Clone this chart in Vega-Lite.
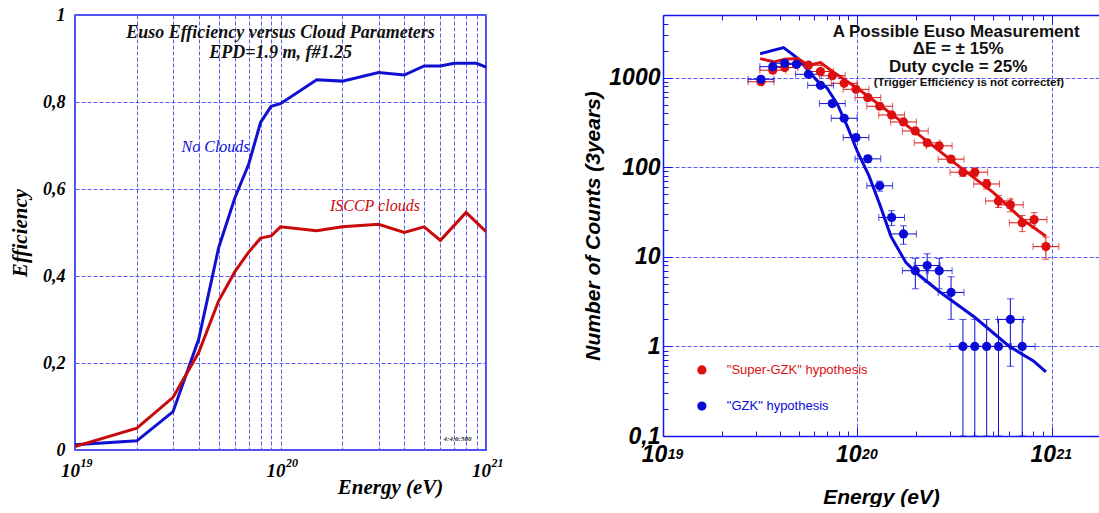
{
  "$schema": "https://vega.github.io/schema/vega-lite/v6.json",
  "background": "white",
  "padding": {"left": 8, "top": 5, "right": 0, "bottom": 0},
  "bounds": "flush",
  "spacing": 177,
  "resolve": {"scale": {"color": "independent"}},
  "config": {"view": {"stroke": null}, "axis": {"labelColor": "black", "titleColor": "black"}},
  "datasets": {
    "eff": [
      {"E": 1e19, "eff": 0.012, "series": "No Clouds"},
      {"E": 2e19, "eff": 0.021, "series": "No Clouds"},
      {"E": 3e19, "eff": 0.088, "series": "No Clouds"},
      {"E": 4e19, "eff": 0.255, "series": "No Clouds"},
      {"E": 5e19, "eff": 0.465, "series": "No Clouds"},
      {"E": 6e19, "eff": 0.58, "series": "No Clouds"},
      {"E": 7e19, "eff": 0.657, "series": "No Clouds"},
      {"E": 8e19, "eff": 0.753, "series": "No Clouds"},
      {"E": 9e19, "eff": 0.79, "series": "No Clouds"},
      {"E": 1e20, "eff": 0.796, "series": "No Clouds"},
      {"E": 1.5e20, "eff": 0.851, "series": "No Clouds"},
      {"E": 2e20, "eff": 0.848, "series": "No Clouds"},
      {"E": 3e20, "eff": 0.868, "series": "No Clouds"},
      {"E": 4e20, "eff": 0.862, "series": "No Clouds"},
      {"E": 5e20, "eff": 0.883, "series": "No Clouds"},
      {"E": 6e20, "eff": 0.883, "series": "No Clouds"},
      {"E": 7e20, "eff": 0.889, "series": "No Clouds"},
      {"E": 8e20, "eff": 0.889, "series": "No Clouds"},
      {"E": 9e20, "eff": 0.889, "series": "No Clouds"},
      {"E": 1e21, "eff": 0.88, "series": "No Clouds"},
      {"E": 1e19, "eff": 0.008, "series": "ISCCP clouds"},
      {"E": 2e19, "eff": 0.05, "series": "ISCCP clouds"},
      {"E": 3e19, "eff": 0.121, "series": "ISCCP clouds"},
      {"E": 4e19, "eff": 0.224, "series": "ISCCP clouds"},
      {"E": 5e19, "eff": 0.343, "series": "ISCCP clouds"},
      {"E": 6e19, "eff": 0.41, "series": "ISCCP clouds"},
      {"E": 7e19, "eff": 0.455, "series": "ISCCP clouds"},
      {"E": 8e19, "eff": 0.487, "series": "ISCCP clouds"},
      {"E": 9e19, "eff": 0.492, "series": "ISCCP clouds"},
      {"E": 1e20, "eff": 0.513, "series": "ISCCP clouds"},
      {"E": 1.5e20, "eff": 0.504, "series": "ISCCP clouds"},
      {"E": 2e20, "eff": 0.513, "series": "ISCCP clouds"},
      {"E": 3e20, "eff": 0.519, "series": "ISCCP clouds"},
      {"E": 4e20, "eff": 0.5, "series": "ISCCP clouds"},
      {"E": 5e20, "eff": 0.513, "series": "ISCCP clouds"},
      {"E": 6e20, "eff": 0.482, "series": "ISCCP clouds"},
      {"E": 8e20, "eff": 0.546, "series": "ISCCP clouds"},
      {"E": 1e21, "eff": 0.502, "series": "ISCCP clouds"}
    ],
    "effLabels": [
      {"E": 4.83e19, "eff": 0.697, "label": "No Clouds", "series": "No Clouds"},
      {"E": 2.88e20, "eff": 0.56, "label": "ISCCP clouds", "series": "ISCCP clouds"}
    ],
    "effTitle": [
      {"E": 1e20, "eff": 0.959, "label": "Euso Efficiency versus Cloud Parameters"},
      {"E": 1e20, "eff": 0.913, "label": "EPD=1.9 m, f#1.25"}
    ],
    "effTag": [
      {"E": 7.26e20, "eff": 0.025, "label": "4:4:6:500"}
    ],
    "counts": [
      {"E": 3.19e19, "Elo": 2.74e19, "Ehi": 3.72e19, "n": 900, "nlo": 870, "nhi": 930, "hyp": "Super-GZK"},
      {"E": 3.67e19, "Elo": 3.15e19, "Ehi": 4.28e19, "n": 1210, "nlo": 1175, "nhi": 1245, "hyp": "Super-GZK"},
      {"E": 4.23e19, "Elo": 3.63e19, "Ehi": 4.93e19, "n": 1295, "nlo": 1259, "nhi": 1331, "hyp": "Super-GZK"},
      {"E": 4.86e19, "Elo": 4.17e19, "Ehi": 5.66e19, "n": 1410, "nlo": 1372, "nhi": 1448, "hyp": "Super-GZK"},
      {"E": 5.60e19, "Elo": 4.81e19, "Ehi": 6.52e19, "n": 1375, "nlo": 1338, "nhi": 1412, "hyp": "Super-GZK"},
      {"E": 6.46e19, "Elo": 5.55e19, "Ehi": 7.53e19, "n": 1170, "nlo": 1136, "nhi": 1204, "hyp": "Super-GZK"},
      {"E": 7.43e19, "Elo": 6.38e19, "Ehi": 8.66e19, "n": 1050, "nlo": 1018, "nhi": 1082, "hyp": "Super-GZK"},
      {"E": 8.55e19, "Elo": 7.34e19, "Ehi": 9.96e19, "n": 865, "nlo": 836, "nhi": 894, "hyp": "Super-GZK"},
      {"E": 9.84e19, "Elo": 8.45e19, "Ehi": 1.146e20, "n": 740, "nlo": 713, "nhi": 767, "hyp": "Super-GZK"},
      {"E": 1.132e20, "Elo": 9.72e19, "Ehi": 1.319e20, "n": 598, "nlo": 574, "nhi": 622, "hyp": "Super-GZK"},
      {"E": 1.303e20, "Elo": 1.118e20, "Ehi": 1.518e20, "n": 479, "nlo": 457, "nhi": 501, "hyp": "Super-GZK"},
      {"E": 1.50e20, "Elo": 1.288e20, "Ehi": 1.748e20, "n": 383, "nlo": 363, "nhi": 403, "hyp": "Super-GZK"},
      {"E": 1.726e20, "Elo": 1.482e20, "Ehi": 2.011e20, "n": 320, "nlo": 302, "nhi": 338, "hyp": "Super-GZK"},
      {"E": 1.986e20, "Elo": 1.705e20, "Ehi": 2.314e20, "n": 254, "nlo": 238, "nhi": 270, "hyp": "Super-GZK"},
      {"E": 2.286e20, "Elo": 1.962e20, "Ehi": 2.663e20, "n": 187, "nlo": 173, "nhi": 201, "hyp": "Super-GZK"},
      {"E": 2.636e20, "Elo": 2.263e20, "Ehi": 3.071e20, "n": 173, "nlo": 160, "nhi": 186, "hyp": "Super-GZK"},
      {"E": 3.034e20, "Elo": 2.604e20, "Ehi": 3.535e20, "n": 123, "nlo": 112, "nhi": 134, "hyp": "Super-GZK"},
      {"E": 3.491e20, "Elo": 2.997e20, "Ehi": 4.067e20, "n": 88, "nlo": 79, "nhi": 97, "hyp": "Super-GZK"},
      {"E": 4.018e20, "Elo": 3.449e20, "Ehi": 4.681e20, "n": 88, "nlo": 79, "nhi": 97, "hyp": "Super-GZK"},
      {"E": 4.624e20, "Elo": 3.969e20, "Ehi": 5.387e20, "n": 65, "nlo": 57, "nhi": 73, "hyp": "Super-GZK"},
      {"E": 5.321e20, "Elo": 4.567e20, "Ehi": 6.199e20, "n": 42, "nlo": 35.5, "nhi": 48.5, "hyp": "Super-GZK"},
      {"E": 6.124e20, "Elo": 5.257e20, "Ehi": 7.135e20, "n": 38, "nlo": 31.8, "nhi": 44.2, "hyp": "Super-GZK"},
      {"E": 7.047e20, "Elo": 6.049e20, "Ehi": 8.21e20, "n": 24, "nlo": 19.1, "nhi": 28.9, "hyp": "Super-GZK"},
      {"E": 8.11e20, "Elo": 6.961e20, "Ehi": 9.448e20, "n": 26, "nlo": 20.9, "nhi": 31.1, "hyp": "Super-GZK"},
      {"E": 9.33e20, "Elo": 8.009e20, "Ehi": 1.0869e21, "n": 13, "nlo": 9.4, "nhi": 16.6, "hyp": "Super-GZK"},
      {"E": 3.19e19, "Elo": 2.74e19, "Ehi": 3.72e19, "n": 958, "nlo": 927, "nhi": 989, "hyp": "GZK"},
      {"E": 3.67e19, "Elo": 3.15e19, "Ehi": 4.28e19, "n": 1326, "nlo": 1290, "nhi": 1362, "hyp": "GZK"},
      {"E": 4.23e19, "Elo": 3.63e19, "Ehi": 4.93e19, "n": 1446, "nlo": 1408, "nhi": 1484, "hyp": "GZK"},
      {"E": 4.86e19, "Elo": 4.17e19, "Ehi": 5.66e19, "n": 1408, "nlo": 1370, "nhi": 1446, "hyp": "GZK"},
      {"E": 5.60e19, "Elo": 4.81e19, "Ehi": 6.52e19, "n": 1089, "nlo": 1056, "nhi": 1122, "hyp": "GZK"},
      {"E": 6.46e19, "Elo": 5.55e19, "Ehi": 7.53e19, "n": 821, "nlo": 792, "nhi": 850, "hyp": "GZK"},
      {"E": 7.43e19, "Elo": 6.38e19, "Ehi": 8.66e19, "n": 513, "nlo": 490, "nhi": 536, "hyp": "GZK"},
      {"E": 8.55e19, "Elo": 7.34e19, "Ehi": 9.96e19, "n": 352, "nlo": 333, "nhi": 371, "hyp": "GZK"},
      {"E": 9.84e19, "Elo": 8.45e19, "Ehi": 1.146e20, "n": 214, "nlo": 199, "nhi": 229, "hyp": "GZK"},
      {"E": 1.132e20, "Elo": 9.72e19, "Ehi": 1.319e20, "n": 124, "nlo": 113, "nhi": 135, "hyp": "GZK"},
      {"E": 1.303e20, "Elo": 1.118e20, "Ehi": 1.518e20, "n": 62, "nlo": 54, "nhi": 70, "hyp": "GZK"},
      {"E": 1.50e20, "Elo": 1.288e20, "Ehi": 1.748e20, "n": 27.5, "nlo": 22.3, "nhi": 32.7, "hyp": "GZK"},
      {"E": 1.726e20, "Elo": 1.482e20, "Ehi": 2.011e20, "n": 18, "nlo": 13.8, "nhi": 22.2, "hyp": "GZK"},
      {"E": 1.986e20, "Elo": 1.705e20, "Ehi": 2.314e20, "n": 7, "nlo": 4.4, "nhi": 9.6, "hyp": "GZK"},
      {"E": 2.286e20, "Elo": 1.962e20, "Ehi": 2.663e20, "n": 8, "nlo": 5.2, "nhi": 10.8, "hyp": "GZK"},
      {"E": 2.636e20, "Elo": 2.263e20, "Ehi": 3.071e20, "n": 7, "nlo": 4.4, "nhi": 9.6, "hyp": "GZK"},
      {"E": 3.034e20, "Elo": 2.604e20, "Ehi": 3.535e20, "n": 4, "nlo": 2, "nhi": 6, "hyp": "GZK"},
      {"E": 3.491e20, "Elo": 2.997e20, "Ehi": 4.067e20, "n": 1, "nlo": 0.1, "nhi": 2, "hyp": "GZK"},
      {"E": 4.018e20, "Elo": 3.449e20, "Ehi": 4.681e20, "n": 1, "nlo": 0.1, "nhi": 2, "hyp": "GZK"},
      {"E": 4.624e20, "Elo": 3.969e20, "Ehi": 5.387e20, "n": 1, "nlo": 0.1, "nhi": 2, "hyp": "GZK"},
      {"E": 5.321e20, "Elo": 4.567e20, "Ehi": 6.199e20, "n": 1, "nlo": 0.1, "nhi": 2, "hyp": "GZK"},
      {"E": 6.124e20, "Elo": 5.257e20, "Ehi": 7.135e20, "n": 2, "nlo": 0.6, "nhi": 3.4, "hyp": "GZK"},
      {"E": 7.047e20, "Elo": 6.049e20, "Ehi": 8.21e20, "n": 1, "nlo": 0.1, "nhi": 2, "hyp": "GZK"}
    ],
    "model": [
      {"E": 3.16e19, "n": 1850, "hyp": "GZK"},
      {"E": 4.17e19, "n": 2160, "hyp": "GZK"},
      {"E": 5.01e19, "n": 1600, "hyp": "GZK"},
      {"E": 5.68e19, "n": 1140, "hyp": "GZK"},
      {"E": 6.41e19, "n": 860, "hyp": "GZK"},
      {"E": 6.97e19, "n": 770, "hyp": "GZK"},
      {"E": 7.89e19, "n": 505, "hyp": "GZK"},
      {"E": 8.91e19, "n": 280, "hyp": "GZK"},
      {"E": 1.0e20, "n": 150, "hyp": "GZK"},
      {"E": 1.148e20, "n": 80, "hyp": "GZK"},
      {"E": 1.318e20, "n": 36, "hyp": "GZK"},
      {"E": 1.486e20, "n": 17, "hyp": "GZK"},
      {"E": 1.778e20, "n": 8.6, "hyp": "GZK"},
      {"E": 2.1e20, "n": 6.1, "hyp": "GZK"},
      {"E": 2.68e20, "n": 4.0, "hyp": "GZK"},
      {"E": 4.03e20, "n": 2.1, "hyp": "GZK"},
      {"E": 6.05e20, "n": 1.0, "hyp": "GZK"},
      {"E": 8.05e20, "n": 0.69, "hyp": "GZK"},
      {"E": 9.33e20, "n": 0.52, "hyp": "GZK"},
      {"E": 3.16e19, "n": 1630, "hyp": "Super-GZK"},
      {"E": 3.72e19, "n": 1500, "hyp": "Super-GZK"},
      {"E": 4.24e19, "n": 1600, "hyp": "Super-GZK"},
      {"E": 4.93e19, "n": 1630, "hyp": "Super-GZK"},
      {"E": 5.62e19, "n": 1375, "hyp": "Super-GZK"},
      {"E": 6.46e19, "n": 1470, "hyp": "Super-GZK"},
      {"E": 7.57e19, "n": 1140, "hyp": "Super-GZK"},
      {"E": 1.0e20, "n": 760, "hyp": "Super-GZK"},
      {"E": 2.0e20, "n": 245, "hyp": "Super-GZK"},
      {"E": 3.16e20, "n": 112, "hyp": "Super-GZK"},
      {"E": 5.01e20, "n": 52, "hyp": "Super-GZK"},
      {"E": 7.08e20, "n": 26, "hyp": "Super-GZK"},
      {"E": 9.33e20, "n": 17, "hyp": "Super-GZK"}
    ],
    "legend": [
      {"E": 1.585e19, "Et": 2.13e19, "n": 0.546, "label": "\"Super-GZK\" hypothesis", "hyp": "Super-GZK"},
      {"E": 1.585e19, "Et": 2.13e19, "n": 0.216, "label": "\"GZK\" hypothesis", "hyp": "GZK"}
    ],
    "rtitle": [
      {"E": 3.22e20, "n": 3230, "label": "A Possible Euso Measurement"},
      {"E": 3.3e20, "n": 2090, "label": "ΔE = ± 15%"},
      {"E": 3.3e20, "n": 1315, "label": "Duty cycle = 25%"}
    ],
    "rnote": [
      {"E": 3.75e20, "n": 871, "label": "(Trigger Efficiency is not correctef)"}
    ]
  },
  "hconcat": [
    {
      "width": 411,
      "height": 435,
      "view": {"stroke": "#1414f0", "strokeWidth": 1.5},
      "resolve": {"axis": {"x": "independent"}},
      "layer": [
        {
          "data": {"name": "eff"},
          "mark": {"type": "line", "strokeWidth": 3, "clip": true},
          "encoding": {
            "x": {
              "field": "E", "type": "quantitative",
              "scale": {"type": "log", "domain": [1e19, 1e21], "nice": false},
              "axis": {
                "values": [1e19, 2e19, 3e19, 4e19, 5e19, 6e19, 7e19, 8e19, 9e19, 1e20, 2e20, 3e20, 4e20, 5e20, 6e20, 7e20, 8e20, 9e20, 1e21],
                "labelExpr": "datum.value == 1e19 || datum.value == 1e20 || datum.value == 1e21 ? '10' : ''",
                "labelOverlap": false, "labelFlush": false, "labelOffset": -5,
                "labelFont": "Liberation Serif", "labelFontStyle": "italic", "labelFontWeight": "bold", "labelFontSize": 19, "labelPadding": 11,
                "ticks": false, "domain": false,
                "grid": true, "gridColor": "#5a5af5", "gridDash": [4, 2], "gridWidth": 1,
                "title": "Energy (eV)", "titleFont": "Liberation Serif", "titleFontStyle": "italic", "titleFontWeight": "bold", "titleFontSize": 21,
                "titleX": 315, "titlePadding": -4
              }
            },
            "y": {
              "field": "eff", "type": "quantitative",
              "scale": {"domain": [0, 1], "nice": false},
              "axis": {
                "values": [0, 0.2, 0.4, 0.6, 0.8, 1],
                "labelExpr": "replace(format(datum.value, '.1~f'), '.', ',')",
                "labelFont": "Liberation Serif", "labelFontStyle": "italic", "labelFontWeight": "bold", "labelFontSize": 18, "labelPadding": 10,
                "ticks": false, "domain": false,
                "grid": true, "gridColor": "#5a5af5", "gridDash": [4, 2], "gridWidth": 1,
                "title": "Efficiency", "titleFont": "Liberation Serif", "titleFontStyle": "italic", "titleFontWeight": "bold", "titleFontSize": 21,
                "titlePadding": 12
              }
            },
            "color": {"field": "series", "type": "nominal", "scale": {"domain": ["No Clouds", "ISCCP clouds"], "range": ["#1010d2", "#c80a0a"]}, "legend": null}
          }
        },
        {
          "data": {"name": "effLabels"},
          "mark": {"type": "text", "font": "Liberation Serif", "fontStyle": "italic", "fontSize": 16},
          "encoding": {
            "x": {"field": "E", "type": "quantitative", "axis": null},
            "y": {"field": "eff", "type": "quantitative"},
            "text": {"field": "label"},
            "color": {"field": "series", "type": "nominal", "legend": null}
          }
        },
        {
          "data": {"name": "effTitle"},
          "mark": {"type": "text", "font": "Liberation Serif", "fontStyle": "italic", "fontWeight": "bold", "fontSize": 18, "color": "#111111"},
          "encoding": {
            "x": {"field": "E", "type": "quantitative", "axis": null},
            "y": {"field": "eff", "type": "quantitative"},
            "text": {"field": "label"}
          }
        },
        {
          "data": {"name": "effTag"},
          "mark": {"type": "text", "font": "Liberation Serif", "fontStyle": "italic", "fontWeight": "bold", "fontSize": 7, "color": "#222222"},
          "encoding": {
            "x": {
              "field": "E", "type": "quantitative",
              "axis": {
                "orient": "bottom",
                "values": [1e19, 1e20, 1e21],
                "labelExpr": "datum.value == 1e19 ? '19' : datum.value == 1e20 ? '20' : '21'",
                "labelOverlap": false, "labelFlush": false, "labelOffset": 11,
                "labelFont": "Liberation Serif", "labelFontStyle": "italic", "labelFontWeight": "bold", "labelFontSize": 12, "labelPadding": 7,
                "ticks": false, "domain": false, "grid": false, "title": null
              }
            },
            "y": {"field": "eff", "type": "quantitative"},
            "text": {"field": "label"}
          }
        }
      ]
    },
    {
      "width": 436,
      "height": 421,
      "resolve": {"axis": {"x": "independent", "y": "independent"}},
      "layer": [
        {
          "data": {"name": "model"},
          "mark": {"type": "line", "strokeWidth": 3, "clip": true},
          "encoding": {
            "x": {
              "field": "E", "type": "quantitative",
              "scale": {"type": "log", "domain": [1e19, 1.75e21], "nice": false},
              "axis": {
                "values": [1e19, 2e19, 3e19, 4e19, 5e19, 6e19, 7e19, 8e19, 9e19, 1e20, 2e20, 3e20, 4e20, 5e20, 6e20, 7e20, 8e20, 9e20, 1e21],
                "labelExpr": "datum.value == 1e19 || datum.value == 1e20 || datum.value == 1e21 ? '10' : ''",
                "labelOverlap": false, "labelFlush": false, "labelOffset": -9,
                "labelFont": "Liberation Sans", "labelFontStyle": "italic", "labelFontWeight": "bold", "labelFontSize": 23, "labelPadding": 16,
                "ticks": true, "tickColor": "#1414f0", "tickWidth": 1,
                "tickSize": {"condition": {"test": "datum.value == 1e19 || datum.value == 1e20 || datum.value == 1e21", "value": -9}, "value": -5},
                "domain": true, "domainColor": "#1414f0", "domainWidth": 1.5,
                "grid": true, "gridColor": "#5a5af5", "gridDash": [4, 2], "gridWidth": 1,
                "gridOpacity": {"condition": {"test": "datum.value == 1e19 || datum.value == 1e20 || datum.value == 1e21", "value": 1}, "value": 0},
                "title": "Energy (eV)", "titleFont": "Liberation Sans", "titleFontStyle": "italic", "titleFontWeight": "bold", "titleFontSize": 21,
                "titlePadding": 16
              }
            },
            "y": {
              "field": "n", "type": "quantitative",
              "scale": {"type": "log", "domain": [0.1, 5000], "nice": false},
              "axis": {
                "values": [0.1, 0.2, 0.3, 0.4, 0.5, 0.6, 0.7, 0.8, 0.9, 1, 2, 3, 4, 5, 6, 7, 8, 9, 10, 20, 30, 40, 50, 60, 70, 80, 90, 100, 200, 300, 400, 500, 600, 700, 800, 900, 1000, 2000, 3000, 4000],
                "labelExpr": "datum.value == 0.1 ? '0,1' : datum.value == 1 ? '1' : datum.value == 10 ? '10' : datum.value == 100 ? '100' : datum.value == 1000 ? '1000' : ''",
                "labelOverlap": false, "labelFlush": false,
                "labelFont": "Liberation Sans", "labelFontStyle": "italic", "labelFontWeight": "bold", "labelFontSize": 23, "labelPadding": 12,
                "ticks": true, "tickColor": "#1414f0", "tickWidth": 1,
                "tickSize": {"condition": {"test": "datum.value == 0.1 || datum.value == 1 || datum.value == 10 || datum.value == 100 || datum.value == 1000", "value": -9}, "value": -5},
                "domain": true, "domainColor": "#1414f0", "domainWidth": 1.5,
                "grid": true, "gridColor": "#5a5af5", "gridDash": [4, 2], "gridWidth": 1,
                "gridOpacity": {"condition": {"test": "datum.value == 0.1 || datum.value == 1 || datum.value == 10 || datum.value == 100 || datum.value == 1000", "value": 1}, "value": 0},
                "title": "Number of Counts (3years)", "titleFont": "Liberation Sans", "titleFontStyle": "italic", "titleFontWeight": "bold", "titleFontSize": 21,
                "titlePadding": 5
              }
            },
            "color": {"field": "hyp", "type": "nominal", "scale": {"domain": ["Super-GZK", "GZK"], "range": ["#dc1010", "#0a0ad8"]}, "legend": null}
          }
        },
        {
          "data": {"name": "counts"},
          "mark": {"type": "rule", "strokeWidth": 1, "clip": true},
          "encoding": {
            "x": {
              "field": "Elo", "type": "quantitative",
              "axis": {
                "orient": "top",
                "values": [1e19, 2e19, 3e19, 4e19, 5e19, 6e19, 7e19, 8e19, 9e19, 1e20, 2e20, 3e20, 4e20, 5e20, 6e20, 7e20, 8e20, 9e20, 1e21],
                "labels": false, "grid": false, "title": null,
                "ticks": true, "tickColor": "#1414f0", "tickWidth": 1,
                "tickSize": {"condition": {"test": "datum.value == 1e19 || datum.value == 1e20 || datum.value == 1e21", "value": -9}, "value": -5},
                "domain": true, "domainColor": "#1414f0", "domainWidth": 1.5
              }
            },
            "x2": {"field": "Ehi"},
            "y": {"field": "n", "type": "quantitative", "axis": null},
            "color": {"field": "hyp", "type": "nominal", "legend": null}
          }
        },
        {
          "data": {"name": "counts"},
          "mark": {"type": "rule", "strokeWidth": 1, "clip": true},
          "encoding": {
            "x": {
              "field": "E", "type": "quantitative",
              "axis": {
                "orient": "bottom",
                "values": [1e19, 1e20, 1e21],
                "labelExpr": "datum.value == 1e19 ? '19' : datum.value == 1e20 ? '20' : '21'",
                "labelOverlap": false, "labelFlush": false, "labelOffset": 12,
                "labelFont": "Liberation Sans", "labelFontStyle": "italic", "labelFontWeight": "bold", "labelFontSize": 14, "labelPadding": 11,
                "ticks": false, "domain": false, "grid": false, "title": null
              }
            },
            "y": {"field": "nlo", "type": "quantitative", "axis": null},
            "y2": {"field": "nhi"},
            "color": {"field": "hyp", "type": "nominal", "legend": null}
          }
        },
        {
          "data": {"name": "counts"},
          "mark": {"type": "tick", "orient": "vertical", "size": 7, "thickness": 1, "clip": true},
          "encoding": {
            "x": {"field": "Elo", "type": "quantitative", "axis": null},
            "y": {"field": "n", "type": "quantitative", "axis": null},
            "color": {"field": "hyp", "type": "nominal", "legend": null}
          }
        },
        {
          "data": {"name": "counts"},
          "mark": {"type": "tick", "orient": "vertical", "size": 7, "thickness": 1, "clip": true},
          "encoding": {
            "x": {"field": "Ehi", "type": "quantitative", "axis": null},
            "y": {"field": "n", "type": "quantitative", "axis": null},
            "color": {"field": "hyp", "type": "nominal", "legend": null}
          }
        },
        {
          "data": {"name": "counts"},
          "mark": {"type": "tick", "orient": "horizontal", "size": 7, "thickness": 1, "clip": true},
          "encoding": {
            "x": {"field": "E", "type": "quantitative", "axis": null},
            "y": {"field": "nlo", "type": "quantitative", "axis": null},
            "color": {"field": "hyp", "type": "nominal", "legend": null}
          }
        },
        {
          "data": {"name": "counts"},
          "mark": {"type": "tick", "orient": "horizontal", "size": 7, "thickness": 1, "clip": true},
          "encoding": {
            "x": {"field": "E", "type": "quantitative", "axis": null},
            "y": {"field": "nhi", "type": "quantitative", "axis": null},
            "color": {"field": "hyp", "type": "nominal", "legend": null}
          }
        },
        {
          "data": {"name": "counts"},
          "mark": {"type": "circle", "size": 85, "opacity": 1, "clip": true},
          "encoding": {
            "x": {"field": "E", "type": "quantitative", "axis": null},
            "y": {"field": "n", "type": "quantitative", "axis": null},
            "color": {"field": "hyp", "type": "nominal", "legend": null}
          }
        },
        {
          "data": {"name": "legend"},
          "mark": {"type": "circle", "size": 85, "opacity": 1},
          "encoding": {
            "x": {"field": "E", "type": "quantitative", "axis": null},
            "y": {"field": "n", "type": "quantitative", "axis": null},
            "color": {"field": "hyp", "type": "nominal", "legend": null}
          }
        },
        {
          "data": {"name": "legend"},
          "mark": {"type": "text", "align": "left", "baseline": "middle", "font": "Liberation Sans", "fontSize": 13},
          "encoding": {
            "x": {"field": "Et", "type": "quantitative", "axis": null},
            "y": {"field": "n", "type": "quantitative", "axis": null},
            "text": {"field": "label"},
            "color": {"field": "hyp", "type": "nominal", "legend": null}
          }
        },
        {
          "data": {"name": "rtitle"},
          "mark": {"type": "text", "font": "Liberation Sans", "fontWeight": "bold", "fontSize": 17, "color": "#111111"},
          "encoding": {
            "x": {"field": "E", "type": "quantitative", "axis": null},
            "y": {"field": "n", "type": "quantitative", "axis": null},
            "text": {"field": "label"}
          }
        },
        {
          "data": {"name": "rnote"},
          "mark": {"type": "text", "font": "Liberation Sans", "fontWeight": "bold", "fontSize": 11.5, "color": "#111111"},
          "encoding": {
            "x": {"field": "E", "type": "quantitative", "axis": null},
            "y": {"field": "n", "type": "quantitative", "axis": null},
            "text": {"field": "label"}
          }
        }
      ]
    }
  ]
}
